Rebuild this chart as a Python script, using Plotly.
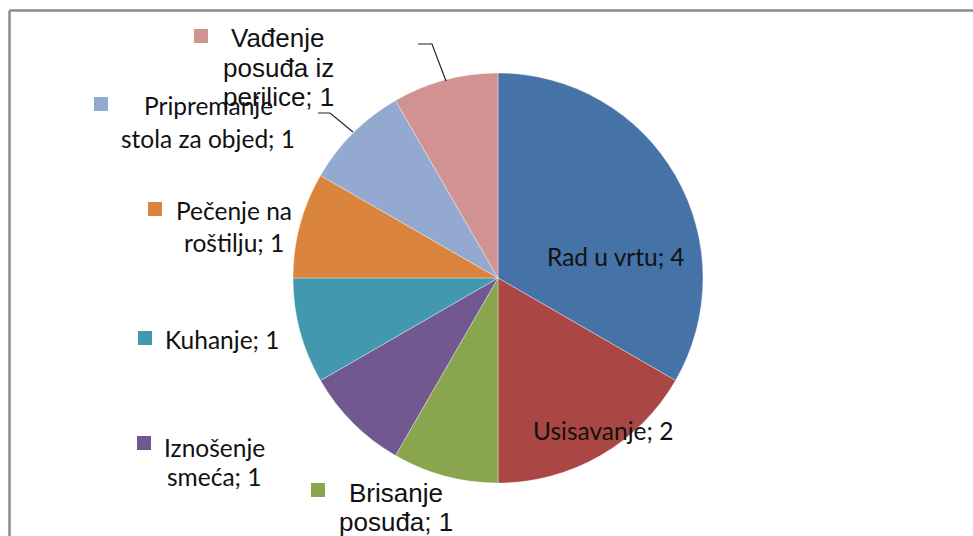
import plotly.graph_objects as go

# ---- data ----
categories = ["Rad u vrtu", "Usisavanje", "Brisanje posuđa", "Iznošenje smeća",
              "Kuhanje", "Pečenje na roštilju", "Pripremanje stola za objed",
              "Vađenje posuđa iz perilice"]
values = [4, 2, 1, 1, 1, 1, 1, 1]
colors = ["#4572A7", "#AA4643", "#89A54E", "#71588F",
          "#4198AF", "#DB843D", "#93A9CF", "#D19392"]

W, H = 973, 536
cx, cy, r = 498, 278, 205

def px(x):
    return x / W

def py(y):
    return 1 - y / H

fig = go.Figure(go.Pie(
    labels=categories, values=values, sort=False, direction="clockwise",
    rotation=0, textinfo="none", hoverinfo="label+value",
    marker=dict(colors=colors, line=dict(color="rgba(255,255,255,0.6)", width=0.6)),
    domain=dict(x=[px(cx - r), px(cx + r)], y=[py(cy + r), py(cy - r)]),
    showlegend=False,
))

CAL = "Lato, Carlito, Calibri, sans-serif"
ARI = "Liberation Sans, Arial, sans-serif"

# label layout: (text lines, center x, first line y, font, size, key-square x, key y, line spacing)
labels = [
    (["Rad u vrtu; 4"], 616, 256, CAL, 24.5, None, None, 0),
    (["Usisavanje; 2"], 603, 430, CAL, 24.5, None, None, 0),
    (["Brisanje", "posuđa; 1"], 396, 493, ARI, 26, 318, 490, 29),
    (["Iznošenje", "smeća; 1"], 214, 447, CAL, 24.5, 144, 443, 29),
    (["Kuhanje; 1"], 222, 339, CAL, 24.5, 145, 338, 0),
    (["Pečenje na", "roštilju; 1"], 234, 210, CAL, 24.5, 155, 209, 32),
    (["Pripremanje", "stola za objed; 1"], 208, 106, CAL, 24.5, 101, 104, 32),
    (["Vađenje", "posuđa iz", "perilice; 1"], 278, 38, ARI, 26, 201, 36, 29.5),
]

annotations = []
shapes = []
for i, (lines, x, y0, fam, size, kx, ky, sp) in enumerate(labels):
    for j, ln in enumerate(lines):
        annotations.append(dict(
            x=px(x), y=py(y0 + j * sp), xref="paper", yref="paper",
            text=ln, showarrow=False, xanchor="center", yanchor="middle",
            font=dict(family=fam, size=size, color="#111111")))
    if kx is not None:
        shapes.append(dict(type="rect", xref="paper", yref="paper",
                           x0=px(kx - 7), x1=px(kx + 7), y0=py(ky + 7), y1=py(ky - 7),
                           fillcolor=colors[i], line=dict(width=0)))

# leader lines
for pts in [[(418, 44), (432, 44), (446, 81)], [(318, 113), (330, 113), (353, 132)]]:
    path = "M " + " L ".join(f"{px(a)},{py(b)}" for a, b in pts)
    shapes.append(dict(type="path", xref="paper", yref="paper", path=path,
                       line=dict(color="#222222", width=1.2)))

# chart frame (top and left edges visible)
shapes.append(dict(type="line", xref="paper", yref="paper",
                   x0=px(9.5), x1=1.01, y0=py(10.5), y1=py(10.5),
                   line=dict(color="#8a8a8a", width=2.5)))
shapes.append(dict(type="line", xref="paper", yref="paper",
                   x0=px(9.5), x1=px(9.5), y0=py(10.5), y1=-0.01,
                   line=dict(color="#8a8a8a", width=2.5)))

fig.update_layout(
    width=W, height=H, margin=dict(l=0, r=0, t=0, b=0),
    paper_bgcolor="white", plot_bgcolor="white",
    annotations=annotations, shapes=shapes,
)

fig.write_html("out.html", config={"displayModeBar": False},
               post_script="document.body.style.margin='0';document.body.style.overflow='hidden';")
